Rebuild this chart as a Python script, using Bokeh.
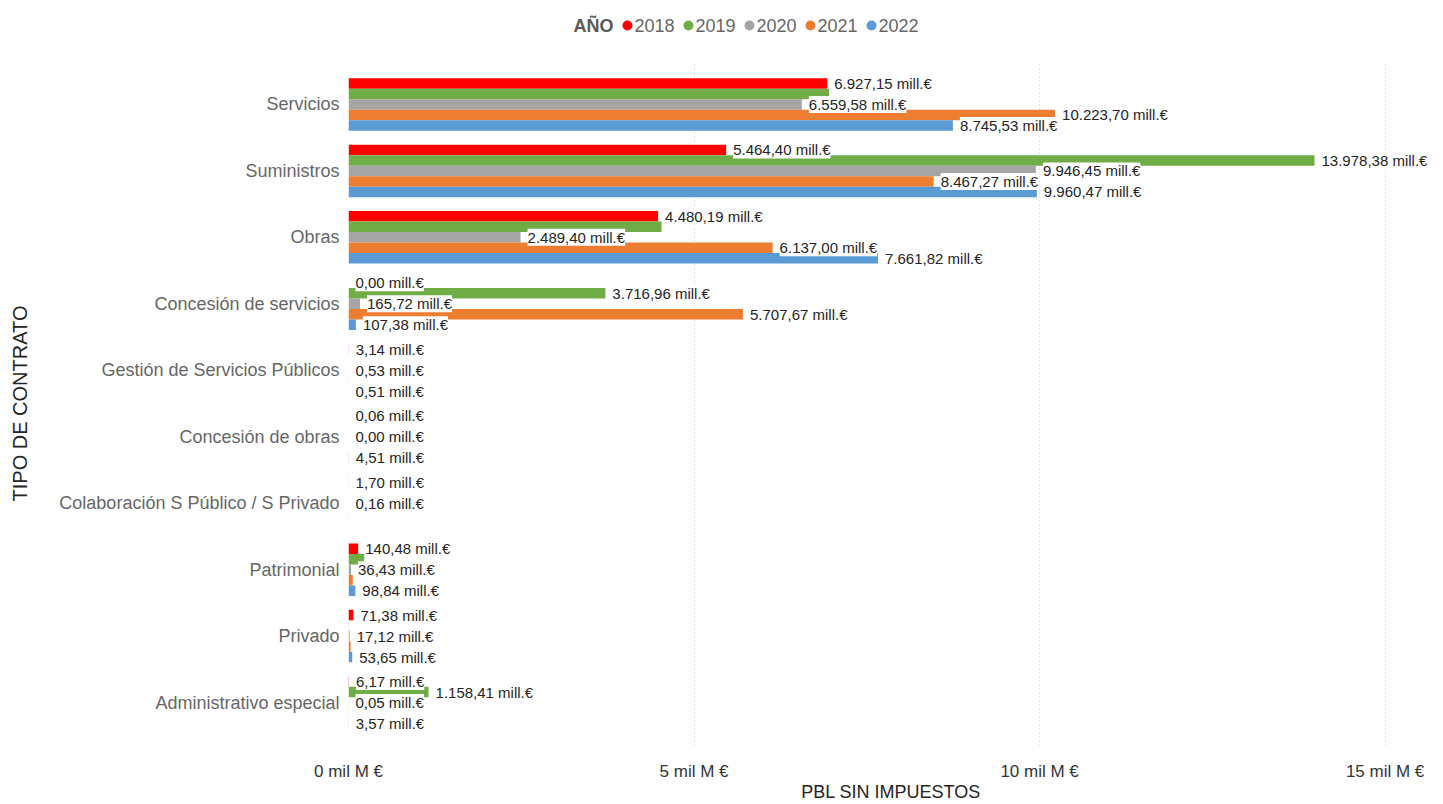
from bokeh.plotting import figure
from bokeh.layouts import column
from bokeh.models import FactorRange, FixedTicker, ColumnDataSource, Range1d
from bokeh.transform import dodge
from bokeh.core.properties import value
from bokeh.embed import file_html
from bokeh.resources import INLINE

categories = ["Servicios", "Suministros", "Obras", "Concesión de servicios",
              "Gestión de Servicios Públicos", "Concesión de obras",
              "Colaboración S Público / S Privado", "Patrimonial", "Privado",
              "Administrativo especial"]
years = ["2018", "2019", "2020", "2021", "2022"]
colors = ["#FF0000", "#70AD47", "#A5A5A5", "#ED7D31", "#5B9BD5"]

# PBL sin impuestos, millones de euros
v2018 = [6927.15, 5464.40, 4480.19, 0.00, 3.14, 0.06, 1.70, 140.48, 71.38, 6.17]
v2019 = [6955.00, 13978.38, 4530.00, 3716.96, 0.40, 0.50, 0.30, 228.00, 5.00, 1158.41]
v2020 = [6559.58, 9946.45, 2489.40, 165.72, 0.53, 0.00, 0.16, 36.43, 17.12, 0.05]
v2021 = [10223.70, 8467.27, 6137.00, 5707.67, 1.20, 0.30, 1.10, 62.00, 30.00, 2.00]
v2022 = [8745.53, 9960.47, 7661.82, 107.38, 0.51, 4.51, float("nan"), 98.84, 53.65, 3.57]
series = [v2018, v2019, v2020, v2021, v2022]

# which data labels are visible in the original (overlapping ones are hidden)
shown2018 = [True] * 10
shown2019 = [False, True, False, True, False, False, False, False, False, True]
shown2020 = [True] * 10
shown2021 = [True, True, True, True, False, False, False, False, False, False]
shown2022 = [True, True, True, True, True, True, False, True, True, True]
shown = [shown2018, shown2019, shown2020, shown2021, shown2022]

x_ticks = [0, 5000, 10000, 15000]


def fmt_es(v):
    s = f"{v:,.2f}"
    s = s.replace(",", "X").replace(".", ",").replace("X", ".")
    return s + " mill.€"


FONT = "Liberation Sans"
W = 1443
LEG_H = 50
FRAME_L = 348
FRAME_R = W - 10

# ---------------- legend strip (its own small figure, pixel-like ranges) -------------
# the column layout aligns this frame with the main chart's frame
leg = figure(width=W, height=LEG_H, x_range=Range1d(FRAME_L, FRAME_R),
             y_range=Range1d(LEG_H, 0),
             output_backend="svg", toolbar_location=None, title=None,
             x_axis_type=None, y_axis_type=None, min_border=0)
leg.outline_line_color = None
leg.grid.visible = False
leg_x0, leg_step, leg_y = 627, 61, 25
dot_x = [leg_x0 + i * leg_step for i in range(len(years))]
leg.text(x=[leg_x0 - 54], y=[leg_y], text=["AÑO"], text_font=value(FONT),
         text_font_size="18px", text_font_style="bold", text_color="#595959",
         text_baseline="middle", text_align="left")
leg.scatter(x=dot_x, y=[leg_y] * len(years), size=10, fill_color=colors,
            line_color=None, marker="circle")
leg.text(x=[d + 7 for d in dot_x], y=[leg_y] * len(years), text=years,
         text_font=value(FONT), text_font_size="18px", text_color="#666666",
         text_baseline="middle", text_align="left")

# ---------------- main chart ----------------
p = figure(width=W, height=804 - LEG_H,
           y_range=FactorRange(*categories[::-1], range_padding=0.146,
                               range_padding_units="absolute"),
           x_range=Range1d(0, 15700), title=None,
           output_backend="svg", toolbar_location=None,
           min_border_left=FRAME_L, min_border_right=W - FRAME_R,
           min_border_top=61 - LEG_H, min_border_bottom=58)
p.outline_line_color = None
p.background_fill_color = "white"

step = 0.158
offsets = [2 * step, step, 0, -step, -2 * step]

for yr, vals, col, off in zip(years, series, colors, offsets):
    src = ColumnDataSource(dict(cat=categories, val=vals))
    p.hbar(y=dodge("cat", off, range=p.y_range), left=0, right="val",
           height=step, source=src, fill_color=col, line_color=None)

for yr, vals, off, flags in zip(years, series, offsets, shown):
    cats = [c for c, f in zip(categories, flags) if f]
    vv = [v for v, f in zip(vals, flags) if f]
    lsrc = ColumnDataSource(dict(cat=cats, val=vv, lbl=[fmt_es(v) for v in vv]))
    p.text(x="val", y=dodge("cat", off, range=p.y_range), text="lbl", source=lsrc,
           x_offset=7, text_baseline="middle", text_align="left",
           text_font_size="15px", text_font=value(FONT), text_color="#252423",
           background_fill_color="white")

# axes
p.xaxis.ticker = FixedTicker(ticks=x_ticks)
p.xaxis.major_label_overrides = {t: f"{t // 1000} mil M €" for t in x_ticks}
p.xaxis.axis_line_color = None
p.xaxis.major_tick_line_color = None
p.xaxis.minor_tick_line_color = None
p.xaxis.major_tick_out = 0
p.xaxis.major_label_standoff = 16
p.xaxis.major_label_text_font = FONT
p.xaxis.major_label_text_font_size = "17px"
p.xaxis.major_label_text_color = "#333333"
p.xaxis.axis_label = "PBL SIN IMPUESTOS"
p.xaxis.axis_label_standoff = -2
p.xaxis.axis_label_text_font = FONT
p.xaxis.axis_label_text_font_style = "normal"
p.xaxis.axis_label_text_font_size = "18px"
p.xaxis.axis_label_text_color = "#252423"

p.yaxis.axis_line_color = None
p.yaxis.major_tick_line_color = None
p.yaxis.major_tick_out = 0
p.yaxis.major_label_standoff = 9
p.yaxis.major_label_text_font = FONT
p.yaxis.major_label_text_font_size = "18px"
p.yaxis.major_label_text_color = "#666666"
p.yaxis.axis_label = "TIPO DE CONTRATO"
p.yaxis.axis_label_standoff = 25
p.yaxis.axis_label_text_font = FONT
p.yaxis.axis_label_text_font_style = "normal"
p.yaxis.axis_label_text_font_size = "20px"
p.yaxis.axis_label_text_color = "#252423"

p.ygrid.grid_line_color = None
p.xgrid.ticker = FixedTicker(ticks=x_ticks)
p.xgrid.grid_line_color = "#C8C8C8"
p.xgrid.grid_line_dash = "1 3"
p.xgrid.grid_line_width = 1

layout = column(leg, p, spacing=0)
open("out.html", "w").write(file_html(layout, INLINE))
